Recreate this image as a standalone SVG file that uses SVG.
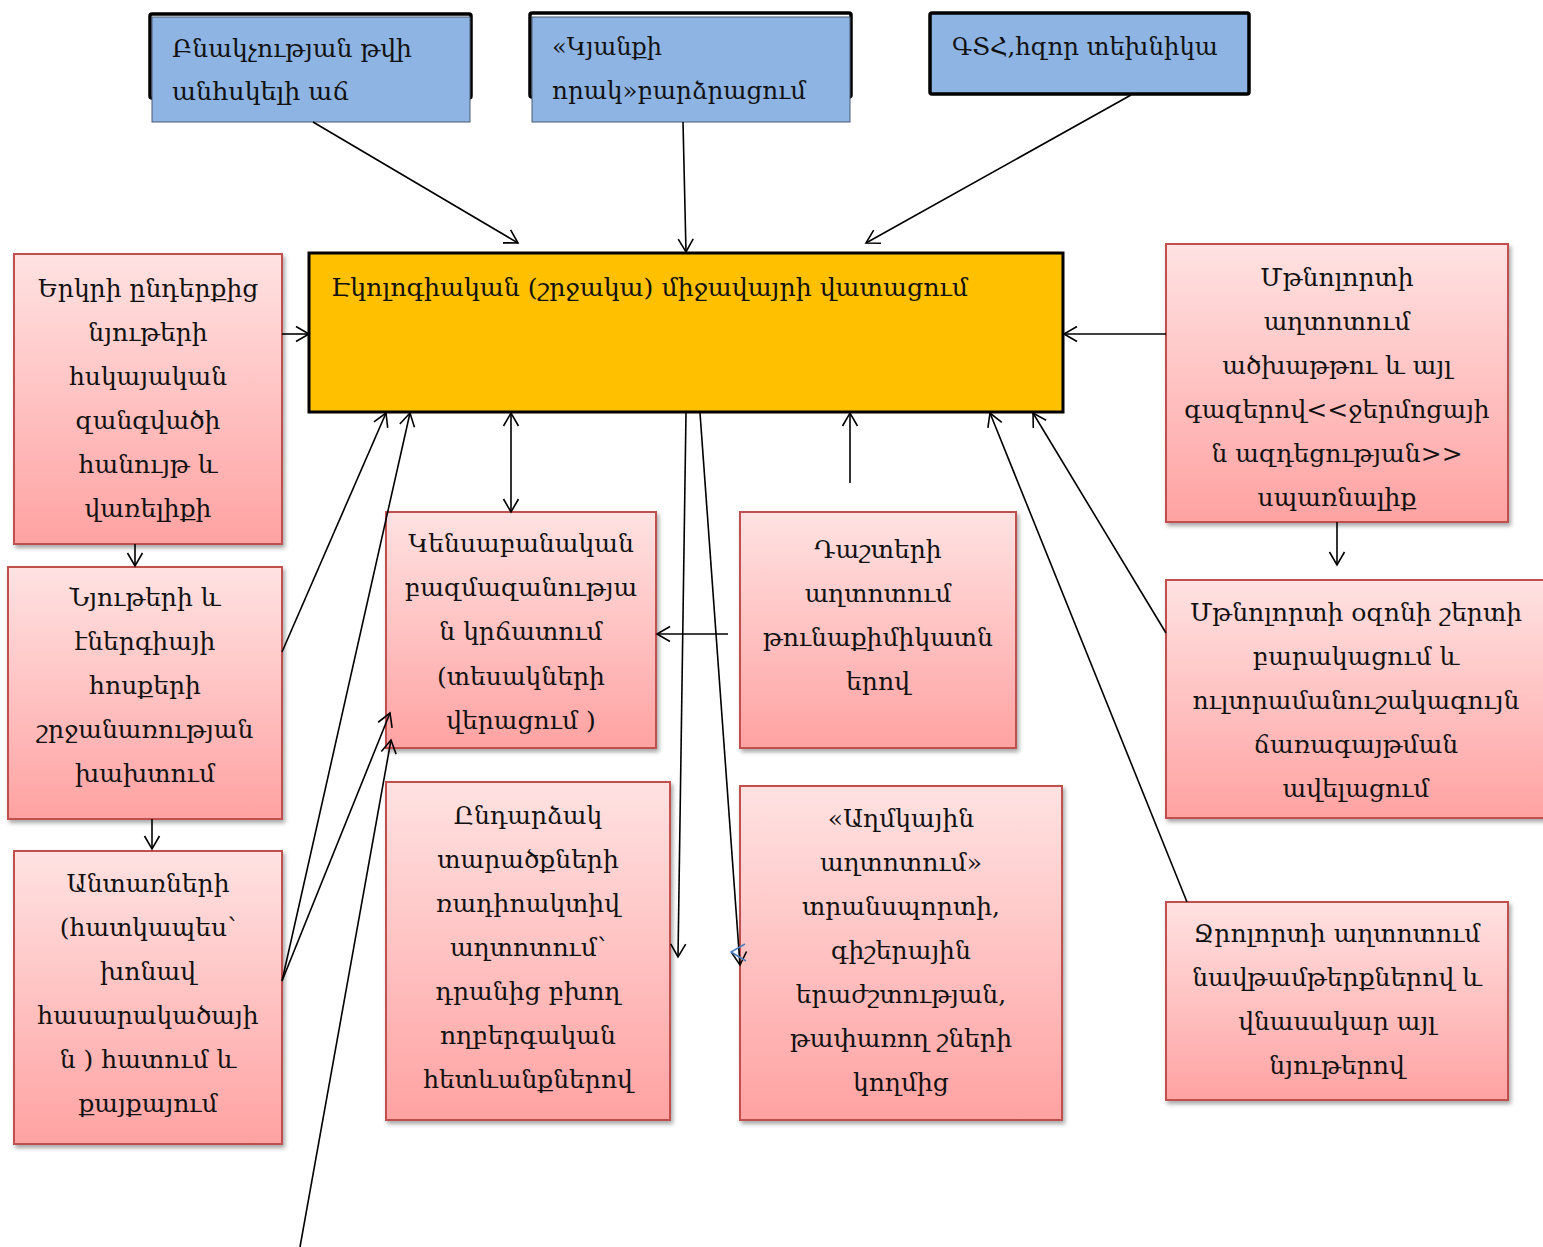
<svg xmlns="http://www.w3.org/2000/svg" width="1543" height="1247" viewBox="0 0 1543 1247">
<defs>
<linearGradient id="pink" x1="0" y1="0" x2="0" y2="1">
<stop offset="0" stop-color="#FFE2E2"/>
<stop offset="1" stop-color="#FFA2A2"/>
</linearGradient>
<filter id="sh" x="-10%" y="-10%" width="120%" height="120%">
<feDropShadow dx="2" dy="3" stdDeviation="2" flood-color="#000" flood-opacity="0.35"/>
</filter>
<marker id="arr" viewBox="-14 -9 16 18" refX="0" refY="0" markerWidth="16" markerHeight="18" markerUnits="userSpaceOnUse" orient="auto-start-reverse">
<path d="M-13,-7.5 L0,0 L-13,7.5" fill="none" stroke="#000" stroke-width="1.6"/>
</marker>
</defs>
<style>
.t{font-family:"DejaVu Serif","Liberation Serif",serif;font-size:24px;fill:#111}
.c{text-anchor:middle;font-size:25px}
.pk{fill:url(#pink);stroke:#C0504D;stroke-width:2;filter:url(#sh)}
.bl{fill:#8EB4E3;stroke:#4a5a70;stroke-width:1}
.blk{fill:none;stroke:#000;stroke-width:3.5}
.cn{fill:none;stroke:#000;stroke-width:1.6}
</style>
<rect width="1543" height="1247" fill="#fff"/>

<g id="top1">
<rect x="150" y="14" width="321" height="84" rx="2" class="blk"/>
<rect x="152" y="17" width="318" height="105" class="bl"/>
<text class="t" x="172" y="57" textLength="240" lengthAdjust="spacingAndGlyphs">Բնակչության թվի</text>
<text class="t" x="172" y="100" textLength="177" lengthAdjust="spacingAndGlyphs">անհսկելի աճ</text>
</g>
<g id="top2">
<rect x="530" y="13" width="321" height="84" rx="2" class="blk"/>
<rect x="532" y="17" width="318" height="105" class="bl"/>
<text class="t" x="552" y="55" textLength="110" lengthAdjust="spacingAndGlyphs">«Կյանքի</text>
<text class="t" x="552" y="99" textLength="254" lengthAdjust="spacingAndGlyphs">որակ»բարձրացում</text>
</g>
<g id="top3">
<rect x="930" y="13" width="319" height="81" rx="2" fill="#8EB4E3" stroke="#000" stroke-width="3.5"/>
<text class="t" x="952" y="55" textLength="266" lengthAdjust="spacingAndGlyphs">ԳՏՀ,հզոր տեխնիկա</text>
</g>

<g id="center">
<rect x="309" y="253" width="754" height="159" fill="#FFC000" stroke="#000" stroke-width="3"/>
<text class="t" x="331" y="296" textLength="637" lengthAdjust="spacingAndGlyphs">Էկոլոգիական (շրջակա) միջավայրի վատացում</text>
</g>

<g id="L1">
<rect x="14" y="254" width="268" height="290" class="pk"/>
<text class="t c" x="148" y="297">Երկրի ընդերքից</text>
<text class="t c" x="148" y="341">նյութերի</text>
<text class="t c" x="148" y="385">հսկայական</text>
<text class="t c" x="148" y="429">զանգվածի</text>
<text class="t c" x="148" y="473">հանույթ և</text>
<text class="t c" x="148" y="517">վառելիքի</text>
</g>
<g id="L2">
<rect x="8" y="567" width="274" height="252" class="pk"/>
<text class="t c" x="145" y="606">Նյութերի և</text>
<text class="t c" x="145" y="650">էներգիայի</text>
<text class="t c" x="145" y="694">հոսքերի</text>
<text class="t c" x="145" y="738">շրջանառության</text>
<text class="t c" x="145" y="782">խախտում</text>
</g>
<g id="L3">
<rect x="14" y="851" width="268" height="293" class="pk"/>
<text class="t c" x="148" y="892">Անտառների</text>
<text class="t c" x="148" y="936">(հատկապես՝</text>
<text class="t c" x="148" y="980">խոնավ</text>
<text class="t c" x="148" y="1024">հասարակածայի</text>
<text class="t c" x="148" y="1068">ն ) հատում և</text>
<text class="t c" x="148" y="1112">քայքայում</text>
</g>

<g id="C1">
<rect x="386" y="512" width="270" height="236" class="pk"/>
<text class="t c" x="521" y="552">Կենսաբանական</text>
<text class="t c" x="521" y="596">բազմազանությա</text>
<text class="t c" x="521" y="640">ն կրճատում</text>
<text class="t c" x="521" y="685">(տեսակների</text>
<text class="t c" x="521" y="729">վերացում )</text>
</g>
<g id="C2">
<rect x="386" y="782" width="284" height="338" class="pk"/>
<text class="t c" x="528" y="824">Ընդարձակ</text>
<text class="t c" x="528" y="868">տարածքների</text>
<text class="t c" x="528" y="912">ռադիոակտիվ</text>
<text class="t c" x="528" y="956">աղտոտում՝</text>
<text class="t c" x="528" y="1000">դրանից բխող</text>
<text class="t c" x="528" y="1044">ողբերգական</text>
<text class="t c" x="528" y="1088">հետևանքներով</text>
</g>
<g id="C3">
<rect x="740" y="512" width="276" height="236" class="pk"/>
<text class="t c" x="878" y="558">Դաշտերի</text>
<text class="t c" x="878" y="602">աղտոտում</text>
<text class="t c" x="878" y="646">թունաքիմիկատն</text>
<text class="t c" x="878" y="690">երով</text>
</g>
<g id="C4">
<rect x="740" y="786" width="322" height="334" class="pk"/>
<text class="t c" x="901" y="827">«Աղմկային</text>
<text class="t c" x="901" y="871">աղտոտում»</text>
<text class="t c" x="901" y="915">տրանսպորտի,</text>
<text class="t c" x="901" y="959">գիշերային</text>
<text class="t c" x="901" y="1003">երաժշտության,</text>
<text class="t c" x="901" y="1047">թափառող շների</text>
<text class="t c" x="901" y="1091">կողմից</text>
</g>

<g id="R1">
<rect x="1166" y="244" width="342" height="278" class="pk"/>
<text class="t c" x="1337" y="286">Մթնոլորտի</text>
<text class="t c" x="1337" y="330">աղտոտում</text>
<text class="t c" x="1337" y="374">ածխաթթու և այլ</text>
<text class="t c" x="1337" y="418">գազերով&lt;&lt;ջերմոցայի</text>
<text class="t c" x="1337" y="462">ն ազդեցության&gt;&gt;</text>
<text class="t c" x="1337" y="506">սպառնալիք</text>
</g>
<g id="R2">
<rect x="1166" y="580" width="390" height="238" class="pk"/>
<text class="t c" x="1356" y="621">Մթնոլորտի օզոնի շերտի</text>
<text class="t c" x="1356" y="665">բարակացում և</text>
<text class="t c" x="1356" y="709">ուլտրամանուշակագույն</text>
<text class="t c" x="1356" y="753">ճառագայթման</text>
<text class="t c" x="1356" y="797">ավելացում</text>
</g>
<g id="R3">
<rect x="1166" y="902" width="342" height="198" class="pk"/>
<text class="t c" x="1337" y="942">Ջրոլորտի աղտոտում</text>
<text class="t c" x="1337" y="986">նավթամթերքներով և</text>
<text class="t c" x="1337" y="1030">վնասակար այլ</text>
<text class="t c" x="1337" y="1074">նյութերով</text>
</g>

<g id="connectors" class="cn">
<path class="cn" d="M313,122 L518,243" marker-end="url(#arr)"/>
<path class="cn" d="M683,122 L686,252" marker-end="url(#arr)"/>
<path class="cn" d="M1131,95 L866,243" marker-end="url(#arr)"/>
<path class="cn" d="M282,334 L309,334" marker-end="url(#arr)"/>
<path class="cn" d="M1166,334 L1064,334" marker-end="url(#arr)"/>
<path class="cn" d="M135,544 L135,566" marker-end="url(#arr)"/>
<path class="cn" d="M152,819 L152,849" marker-end="url(#arr)"/>
<path class="cn" d="M282,652 L386,413" marker-end="url(#arr)"/>
<path class="cn" d="M282,981 L410,413" marker-end="url(#arr)"/>
<path class="cn" d="M282,981 L390,713" marker-end="url(#arr)"/>
<path class="cn" d="M300,1247 L391,740" marker-end="url(#arr)"/>
<path class="cn" d="M511,413 L511,512" marker-start="url(#arr)" marker-end="url(#arr)"/>
<path class="cn" d="M686,413 L678,957" marker-end="url(#arr)"/>
<path class="cn" d="M700,413 L740,965" marker-end="url(#arr)"/>
<path class="cn" d="M850,483 L850,413" marker-end="url(#arr)"/>
<path class="cn" d="M728,634 L657,634" marker-end="url(#arr)"/>
<path class="cn" d="M1166,633 L1033,413" marker-end="url(#arr)"/>
<path class="cn" d="M1187,902 L990,413" marker-end="url(#arr)"/>
<path class="cn" d="M1337,522 L1337,565" marker-end="url(#arr)"/>
<path d="M745,944 L731,952 L746,961" fill="none" stroke="#4a7ebb" stroke-width="1.5"/>
</g>
</svg>
